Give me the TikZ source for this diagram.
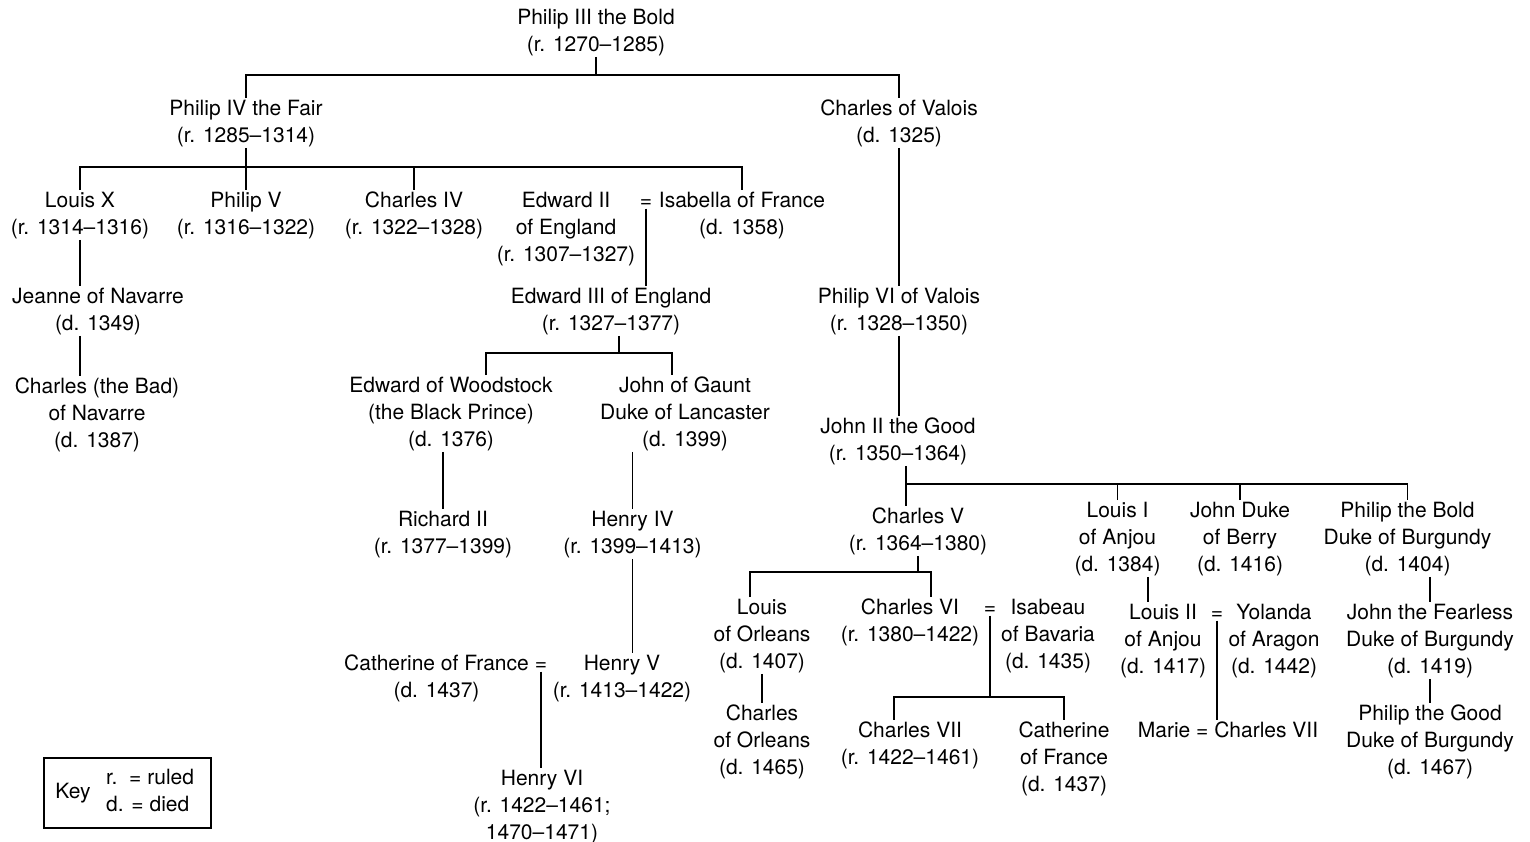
\documentclass[tikz,border=0pt]{standalone}
\usepackage{fontspec}
\setmainfont{TeX Gyre Heros}
\begin{document}
\begin{tikzpicture}[x=1pt,y=-1pt,
  per/.style={align=center, anchor=base, inner sep=0pt, outer ysep=1.5pt, font=\fontsize{21}{27}\selectfont},
  conn/.style={line width=1.25pt}]
\useasboundingbox (0,0) rectangle (1530,841);
% people (positions give the baseline of the last line)
\node[per] (p3) at (596,51) {Philip III the Bold\\(r. 1270–1285)};
\node[per] (p4) at (246,142) {Philip IV the Fair\\(r. 1285–1314)};
\node[per] (cv) at (899,142) {Charles of Valois\\(d. 1325)};
\node[per] (lx) at (80,234) {Louis X\\(r. 1314–1316)};
\node[per] (p5) at (246,234) {Philip V\\(r. 1316–1322)};
\node[per] (c4) at (414,234) {Charles IV\\(r. 1322–1328)};
\node[per] (e2) at (566,261) {Edward II\\of England\\(r. 1307–1327)};
\node[per] (eq1) at (646,207) {=};
\node[per] (isa) at (742,234) {Isabella of France\\(d. 1358)};
\node[per] (jn) at (98,330) {Jeanne of Navarre\\(d. 1349)};
\node[per] (cb) at (97,447) {Charles (the Bad)\\of Navarre\\(d. 1387)};
\node[per] (e3) at (611,330) {Edward III of England\\(r. 1327–1377)};
\node[per] (pv6) at (899,330) {Philip VI of Valois\\(r. 1328–1350)};
\node[per] (wood) at (451,446) {Edward of Woodstock\\(the Black Prince)\\(d. 1376)};
\node[per] (gaunt) at (685,446) {John of Gaunt\\Duke of Lancaster\\(d. 1399)};
\node[per] (j2) at (898,460) {John II the Good\\(r. 1350–1364)};
\node[per] (r2) at (443,553) {Richard II\\(r. 1377–1399)};
\node[per] (h4) at (632.5,553) {Henry IV\\(r. 1399–1413)};
\node[per] (c5) at (918,550) {Charles V\\(r. 1364–1380)};
\node[per] (l1) at (1117.5,571) {Louis I\\of Anjou\\(d. 1384)};
\node[per] (jb) at (1240,571) {John Duke\\of Berry\\(d. 1416)};
\node[per] (pb) at (1407.5,571) {Philip the Bold\\Duke of Burgundy\\(d. 1404)};
\node[per] (lo) at (762,668) {Louis\\of Orleans\\(d. 1407)};
\node[per] (c6) at (910,641) {Charles VI\\(r. 1380–1422)};
\node[per] (eq2) at (990,614) {=};
\node[per] (isb) at (1048,668) {Isabeau\\of Bavaria\\(d. 1435)};
\node[per] (l2) at (1163,673) {Louis II\\of Anjou\\(d. 1417)};
\node[per] (eq3) at (1217,619) {=};
\node[per] (yol) at (1274,673) {Yolanda\\of Aragon\\(d. 1442)};
\node[per] (jf) at (1430,673) {John the Fearless\\Duke of Burgundy\\(d. 1419)};
\node[per] (cat1) at (436.5,697) {Catherine of France\\(d. 1437)};
\node[per] (eq4) at (541,670) {=};
\node[per] (h5) at (622,697) {Henry V\\(r. 1413–1422)};
\node[per] (co) at (762,774) {Charles\\of Orleans\\(d. 1465)};
\node[per] (pg) at (1430,774) {Philip the Good\\Duke of Burgundy\\(d. 1467)};
\node[per] (c7) at (910,764) {Charles VII\\(r. 1422–1461)};
\node[per] (cat2) at (1064,791) {Catherine\\of France\\(d. 1437)};
\node[per] (mc) at (1228,737) {Marie = Charles VII};
\node[per] (h6) at (542,839) {Henry VI\\(r. 1422–1461;\\1470–1471)};
% key
\node[draw, line width=1.25pt, minimum width=167pt, minimum height=70pt, inner sep=0pt] (key) at (127.5,793) {};
\node[per] (keyl) at (73,798) {Key};
\node[per, anchor=base west] (keyt) at (106,784) {\begin{tabular}[t]{@{}l@{}}r.\ \ = ruled\\d. = died\end{tabular}};
% connectors
\coordinate (b1) at (596,75);
\draw[conn] (p3.south) -- (b1);
\draw[conn] (p4.north) |- (b1) -| (cv.north);
\coordinate (b2) at (246,167);
\draw[conn] (p4.south) -- (p5.north);
\draw[conn] (lx.north) |- (isa.north |- b2) -- (isa.north);
\draw[conn] (c4.north) -- (c4.north |- b2);
\draw[conn] (lx.south) -- (lx.south |- jn.north);
\draw[conn] (lx.south |- jn.south) -- (lx.south |- cb.north);
\draw[conn] (eq1.south) -- (eq1.south |- e3.north);
\draw[conn] (cv.south) -- (pv6.north);
\draw[conn] (pv6.south) -- (pv6.south |- j2.north);
\coordinate (b3) at (619,353);
\draw[conn] (b3 |- e3.south) -- (b3);
\draw[conn] ([xshift=35pt]wood.north) |- ([xshift=-13pt]gaunt.north |- b3) -- ([xshift=-13pt]gaunt.north);
\draw[conn] (r2.north |- wood.south) -- (r2.north);
\draw[conn] (h4.north |- gaunt.south) -- (h4.north);
\draw[conn] (h4.south) -- (h4.south |- h5.north);
\draw[conn] (eq4.south) -- (eq4.south |- h6.north);
\coordinate (b4) at (906,484);
\draw[conn] (b4 |- j2.south) -- (b4 |- c5.north);
\draw[conn] (b4) -| (pb.north);
\draw[conn] (l1.north) -- (l1.north |- b4);
\draw[conn] (jb.north) -- (jb.north |- b4);
\coordinate (b5) at (918,572);
\draw[conn] (b5 |- c5.south) -- (b5);
\draw[conn] ([xshift=-12pt]lo.north) |- ([xshift=21pt]c6.north |- b5) -- ([xshift=21pt]c6.north);
\draw[conn] (lo.south) -- (co.north);
\coordinate (b6) at (990,697);
\draw[conn] (eq2.south) -- (b6);
\draw[conn] ([xshift=-16pt]c7.north) |- (cat2.north |- b6) -- (cat2.north);
\draw[conn] ([xshift=30.5pt]l1.south) -- ([xshift=30.5pt]l1.south |- l2.north);
\draw[conn] (eq3.south) -- (eq3.south |- mc.north);
\draw[conn] (jf.north |- pb.south) -- (jf.north);
\draw[conn] (jf.south) -- (pg.north);
\end{tikzpicture}
\end{document}
